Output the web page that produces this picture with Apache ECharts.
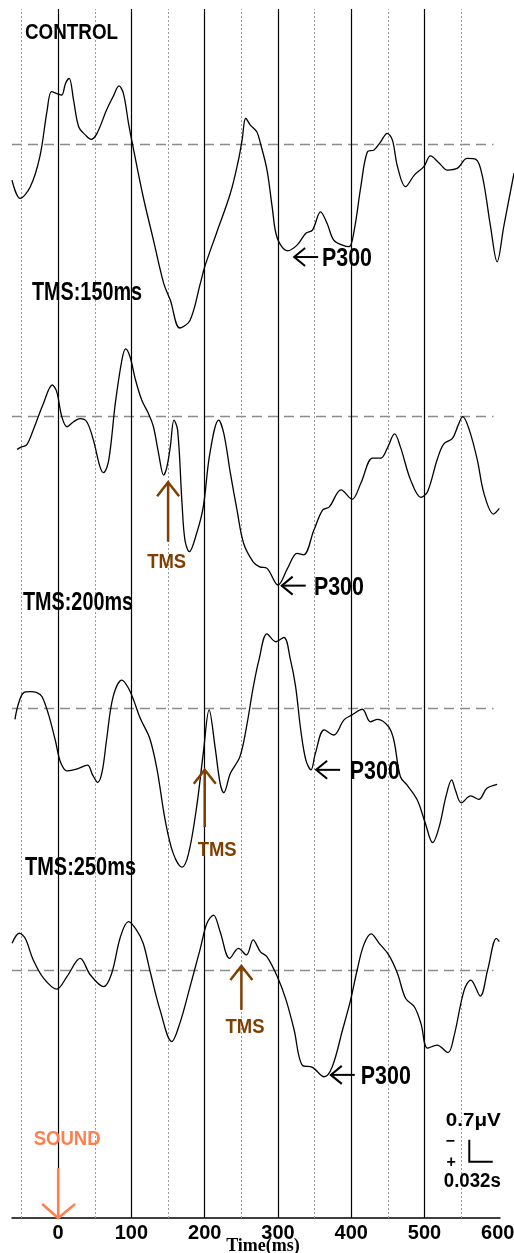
<!DOCTYPE html>
<html><head><meta charset="utf-8">
<script src="https://cdn.jsdelivr.net/npm/echarts@6/dist/echarts.min.js"></script>
<style>html,body{margin:0;padding:0;background:#fff}#c{width:514px;height:1253px}</style>
</head><body><div id="c"></div><script>
// ---- data (time in ms, amplitude in µV; positive plotted downward) ----
const traceNames = ['CONTROL', 'TMS:150ms', 'TMS:200ms', 'TMS:250ms'];
const controlT = [-63,-52,-38,-25,-15,-9,0,5,10,15,21,28,37,45,53,66,75,83,89,96,103,116,130,144,153,166,180,194,200,216,235,246,251,256,262,271,276,285,292,299,313,326,338,347,358,367,376,388,397,404,413,422,431,440,449,456,463,474,486,499,508,520,531,545,558,570,579,590,599,608,622];
const controlV = [1.15,1.73,1.36,0.40,-1.08,-1.67,-1.59,-1.56,-1.93,-2.09,-1.40,-0.55,-0.29,-0.15,-0.34,-1.08,-1.51,-1.85,-1.61,-0.66,0.19,1.68,3.06,4.44,4.97,5.86,5.61,4.44,3.91,2.84,1.57,0.51,-0.13,-0.82,-0.61,-0.39,-0.02,0.83,2.00,3.00,3.40,3.22,2.84,2.74,2.16,2.53,3.06,3.22,3.27,2.74,1.36,0.25,0.19,-0.07,-0.34,-0.13,0.72,1.36,0.99,0.72,0.38,0.61,0.83,0.77,0.46,0.49,1.04,2.63,3.75,2.63,0.93];
const tms150T = [-56,-50,-43,-34,-20,-8,-2,5,12,21,30,39,48,57,62,69,78,87,92,98,105,114,123,130,137,144,148,153,158,163,169,173,179,189,198,207,219,226,235,244,253,266,275,285,300,313,326,335,349,361,370,386,401,413,429,440,449,459,467,481,495,504,517,526,538,546,552,561,572,581,594,602];
const tms150V = [1.04,0.96,0.90,0.42,-0.43,-1.01,-0.80,0,0.32,0.16,0.06,0.16,0.74,1.59,1.78,1.38,-0.43,-1.81,-2.16,-1.91,-1.22,-0.53,-0.11,0.32,1.17,1.86,1.64,0.96,0.11,0.42,2.76,3.93,4.30,3.71,2.87,1.17,0.11,0.53,1.80,2.97,4.03,4.62,4.78,4.83,5.36,4.83,4.35,4.40,3.61,2.97,2.87,2.33,2.63,2.12,1.32,1.32,1.01,0.55,0.96,2.02,2.57,2.39,1.38,0.87,0.69,0.26,0,0.42,1.38,2.44,3.10,2.92];
const tms200T = [-59,-54,-47,-38,-29,-22,-13,-4,3,12,25,40,47,54,60,66,75,87,96,103,112,125,135,146,157,169,178,189,198,206,214,221,226,235,248,257,266,274,285,297,308,317,324,331,338,345,351,363,376,390,401,415,426,436,451,458,467,476,490,501,511,520,529,537,542,550,563,574,585,599];
const tms200V = [0.35,-0.16,-0.50,-0.53,-0.50,-0.37,0.21,1.01,1.70,1.99,1.94,1.81,2.12,2.36,2.02,1.01,-0.37,-0.90,-0.64,-0.26,0.32,0.96,1.96,3.56,4.62,5.06,4.62,3.13,1.43,0.05,1.22,2.39,2.69,2.07,1.54,0.59,-0.65,-1.54,-2.37,-2.12,-2.26,-1.54,-0.69,0.69,1.65,1.96,1.43,0.69,0.85,0.37,0.21,0.03,0.43,0.35,0.59,1.01,2.18,2.44,2.92,3.66,4.28,3.77,2.82,2.28,2.60,3.01,2.79,2.90,2.55,2.42];
const tms250T = [-63,-53,-45,-34,-20,-2,12,30,44,62,73,85,96,107,116,125,139,155,166,180,194,203,212,221,234,246,257,266,276,285,299,311,322,333,347,363,374,388,399,408,417,427,438,451,463,474,486,495,504,517,532,540,554,563,576,586,598,602];
const tms250V = [-0.85,-1.17,-1.01,-0.32,0.26,0.61,0.21,-0.37,0.16,0.53,0.11,-1.06,-1.54,-1.27,-0.85,0,1.27,2.28,1.70,0.53,-0.69,-1.49,-1.75,-1.22,-0.37,-0.69,-0.48,-0.96,-0.58,-0.42,0.21,0.96,1.91,3.03,3.10,3.40,3.08,1.91,0.96,0,-0.80,-1.15,-0.85,-0.48,0.11,0.90,1.17,1.70,2.49,2.39,2.63,2.12,0.64,0.32,0.83,0,-1.01,-0.90];
const tickLabels = [0, 100, 200, 300, 400, 500, 600];
const solidLinesMs = [0, 100, 200, 300, 400, 500];
const dottedLinesMs = [-50, 50, 150, 250, 350, 450, 550];
// annotations (data coords: [ms, µV] in each trace's grid)
const p300Tip = [[322, 3.60], [305, 5.38], [352, 1.96], [372, 3.34]];
const p300TextMs = [360, 349, 398, 413];
const tmsArrow = [
  {grid: 1, ms: 150, tip: 2.09, tail: 3.98, textMs: 148, textUv: 4.63},
  {grid: 2, ms: 200, tip: 1.96, tail: 3.78, textMs: 217, textUv: 4.51},
  {grid: 3, ms: 250, tip: -0.13, tail: 1.27, textMs: 255, textUv: 1.82}
];
const scaleUv = 0.7, scaleMs = 32;

// ---- layout ----
const FONT = "'Liberation Sans',Arial,sans-serif";
const baselines = [144, 416.7, 708.3, 970];
const Y_MIN = -3, Y_MAX = 6.5, PX_PER_UV = 31.4;
const series = [[controlT, controlV], [tms150T, tms150V], [tms200T, tms200V], [tms250T, tms250V]];

const chart = echarts.init(document.getElementById('c'), null, {renderer: 'canvas'});
const grid = [], xAxis = [], yAxis = [], ser = [];
baselines.forEach((b, i) => {
  grid.push({left: 12, right: 0, top: b + Y_MIN * PX_PER_UV, height: (Y_MAX - Y_MIN) * PX_PER_UV, containLabel: false, outerBoundsMode: 'none'});
  xAxis.push({type: 'value', gridIndex: i, min: -63, max: 622, show: false});
  yAxis.push({type: 'value', gridIndex: i, min: Y_MIN, max: Y_MAX, inverse: true, show: false});
  const [T, V] = series[i];
  ser.push({
    type: 'line', xAxisIndex: i, yAxisIndex: i, z: 5,
    data: T.map((t, k) => [t, V[k]]),
    smooth: 0.35, symbol: 'none', silent: true,
    lineStyle: {color: '#000', width: 1.3},
    markLine: {silent: true, symbol: 'none', label: {show: false},
      lineStyle: {color: '#8c8c8c', type: [10, 6], width: 1.3},
      data: [[{coord: [-63, 0]}, {coord: [594, 0]}]]}
  });
});
// axis grid spanning the full height (vertical reference lines + time axis)
grid.push({left: 12, right: 14, top: 9, bottom: 35, containLabel: false, outerBoundsMode: 'none'});
xAxis.push({type: 'value', gridIndex: 4, min: -63, max: 603,
  axisLine: {show: true, onZero: false, lineStyle: {color: '#000', width: 1.5}},
  axisTick: {show: false}, splitLine: {show: false},
  axisLabel: {customValues: tickLabels, color: '#000', fontSize: 20, fontWeight: 'bold', fontFamily: FONT, margin: 5, hideOverlap: false},
  name: 'Time(ms)', nameLocation: 'middle', nameGap: 19, nameMoveOverlap: false,
  nameTextStyle: {fontFamily: "'Liberation Serif','DejaVu Serif',serif", fontWeight: 'bold', fontSize: 18, color: '#000', padding: [0, 0, 0, 14]}
});
yAxis.push({type: 'value', gridIndex: 4, min: 0, max: 1, show: false});
ser.push({
  type: 'line', xAxisIndex: 4, yAxisIndex: 4, z: 1, data: [], symbol: 'none', silent: true,
  markLine: {silent: true, symbol: 'none', label: {show: false}, animation: false,
    data: solidLinesMs.map(v => ({xAxis: v, lineStyle: {color: '#000', width: 1.2, type: 'solid'}}))
      .concat(dottedLinesMs.map(v => ({xAxis: v, lineStyle: {color: '#9a9a9a', width: 1, type: [2, 2]}})))}
});

chart.setOption({animation: false, backgroundColor: '#fff', grid, xAxis, yAxis, series: ser});

// ---- annotations ----
const px = (gi, p) => chart.convertToPixel({gridIndex: gi}, p);
const mctx = document.createElement('canvas').getContext('2d');
const g = [];
// text drawn in a normal bold sans, squeezed horizontally to the reference's narrow glyph width
const text = (t, x, y, size, color, align, width) => {
  const font = 'bold ' + size + 'px ' + FONT;
  let sx = 1;
  if (width) { mctx.font = font; sx = width / mctx.measureText(t).width; }
  g.push({type: 'text', x, y, z: 20, scaleX: sx,
    style: {text: t, fill: color, font, textAlign: align || 'left', textVerticalAlign: 'middle'}});
};
const poly = (pts, color, w) => g.push({type: 'polyline', z: 20, shape: {points: pts}, style: {stroke: color, lineWidth: w, fill: null, lineJoin: 'miter'}});

// trace titles
const titlePos = [[25, 33], [32, 293], [23, 603.5], [25, 868]];
const titleSize = [22, 25, 25, 25];
const titleWidth = [93, 110, 110, 111];
traceNames.forEach((n, i) => text(n, titlePos[i][0], titlePos[i][1], titleSize[i], '#000', 'left', titleWidth[i]));

// P300 arrows
p300Tip.forEach((p, i) => {
  const [tx, ty] = px(i, p);
  poly([[tx, ty], [tx + 24, ty]], '#000', 2);
  poly([[tx + 11, ty - 9], [tx, ty], [tx + 11, ty + 9]], '#000', 2);
  const [lx] = px(i, [p300TextMs[i], p[1]]);
  text('P300', lx, ty + 2, 25, '#000', 'left', 50);
});

// TMS arrows
const BROWN = '#7f3f00';
tmsArrow.forEach(a => {
  const [tx, ty] = px(a.grid, [a.ms, a.tip]);
  const [, by] = px(a.grid, [a.ms, a.tail]);
  poly([[tx, ty], [tx, by]], BROWN, 2.5);
  poly([[tx - 11, ty + 14], [tx, ty], [tx + 11, ty + 14]], BROWN, 2.5);
  const [cx, cy] = px(a.grid, [a.textMs, a.textUv]);
  text('TMS', cx, cy, 21, BROWN, 'center', 39);
});

// SOUND arrow at 0 ms on the time axis
const ORANGE = '#ff7f4f';
const [sx, sy] = px(4, [0, 0]);
poly([[sx, sy - 50], [sx, sy]], ORANGE, 2.5);
poly([[sx - 16, sy - 14], [sx, sy], [sx + 17, sy - 14]], ORANGE, 2.5);
text('SOUND', sx + 9, sy - 79, 21, ORANGE, 'center', 67);

// scale bar (0.7 µV x 32 ms) in the last trace's scale
const [cx0, cy0] = px(3, [561, 6.11]);
const [, cyTop] = px(3, [561, 6.11 - scaleUv]);
const [cxR] = px(3, [561 + scaleMs, 6.11]);
poly([[cx0, cyTop], [cx0, cy0], [cxR, cy0]], '#000', 2);
text('0.7μV', cx0 + 4, cy0 - 41, 19, '#000', 'center', 55);
text('−', cx0 - 19, cy0 - 20, 16, '#000', 'center');
text('+', cx0 - 18, cy0 + 1, 16, '#000', 'center');
text('0.032s', cx0 + 3, cy0 + 20, 20, '#000', 'center', 57);

chart.setOption({graphic: g});
</script></body></html>
